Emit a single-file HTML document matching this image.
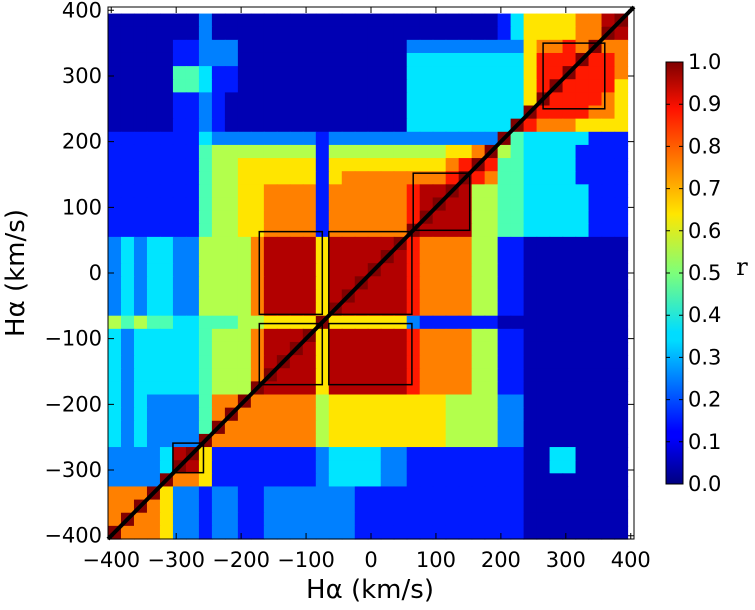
<!DOCTYPE html>
<html><head><meta charset="utf-8"><style>
body{margin:0;background:#fff;width:755px;height:605px;overflow:hidden}
text{font-family:"DejaVu Sans","Liberation Sans",sans-serif;fill:#000}
</style></head><body>
<svg id="chart" width="755" height="605" xmlns="http://www.w3.org/2000/svg">
<defs><linearGradient id="jet" x1="0" y1="1" x2="0" y2="0">
<stop offset="0" stop-color="#00007f"/><stop offset="0.11" stop-color="#0000ff"/><stop offset="0.125" stop-color="#0000ff"/><stop offset="0.34" stop-color="#00dcff"/><stop offset="0.36" stop-color="#0df"/><stop offset="0.5" stop-color="#7dff7a"/><stop offset="0.64" stop-color="#ffe600"/><stop offset="0.89" stop-color="#ff1100"/><stop offset="1" stop-color="#7f0000"/></linearGradient></defs>
<g id="cells"></g>
<g id="overlay"></g>
<rect x="108" y="7" width="526" height="532" fill="none" stroke="#000" stroke-width="1"/>
<g id="axes"></g>
<rect x="666" y="62" width="17" height="422" fill="url(#jet)" stroke="#000" stroke-width="1"/>
<g id="cbar"></g>
<text x="370" y="598" font-size="26" text-anchor="middle">Hα (km/s)</text>
<text transform="translate(24,273) rotate(-90)" font-size="26" text-anchor="middle">Hα (km/s)</text>
<text x="742" y="275" font-size="24" text-anchor="middle" style="font-family:'DejaVu Serif','Liberation Serif',serif">r</text>
</svg>
<script>
// bin centres (km/s), 40 bins of 20 km/s
const binCenters = Array.from({length:40},(_, i)=>-395+20*i);
const xTicks = [-400,-300,-200,-100,0,100,200,300,400];
const yTicks = [-400,-300,-200,-100,0,100,200,300,400];
const cbarTicks = [0.0,0.1,0.2,0.3,0.4,0.5,0.6,0.7,0.8,0.9,1.0];
// rows from top (y=+395) to bottom (y=-395); each row split into column groups of
// widths 4,1,2,1,4,4,1,6,1,4,2,2,8. chars 0-9 => r ~ d/10+0.05, 'a' => 1.0
const matrixRows = [
["0000","0","00","2","0000","0000","0","000000","0","0000","00","13","6666779a"],
["0000","0","00","2","0000","0000","0","000000","0","0000","00","13","666677a9"],
["0000","0","11","2","2200","0000","0","000000","2","2222","22","22","67787a77"],
["0000","0","11","2","2200","0000","0","000000","3","3333","33","33","6888a887"],
["0000","0","44","3","1100","0000","0","000000","3","3333","33","33","688a8887"],
["0000","0","44","3","1100","0000","0","000000","3","3333","33","33","68a88886"],
["0000","0","11","2","1000","0000","0","000000","3","3333","33","33","6a888876"],
["0000","0","11","2","1000","0000","0","000000","3","3333","33","33","a8888776"],
["0000","0","11","2","1000","0000","0","000000","3","3333","33","3a","87776666"],
["1111","1","11","3","2222","2222","1","222222","2","2222","22","a4","33333111"],
["1111","1","11","4","5555","5555","1","555555","5","5566","7a","54","33331111"],
["1111","1","11","4","5566","6666","1","666666","6","6678","a8","44","33331111"],
["1111","1","11","4","5566","6666","1","677777","7","778a","87","44","33331111"],
["1111","1","11","4","5566","7777","1","777777","8","99a9","55","44","33333111"],
["1111","1","11","4","5566","7777","1","777777","8","9a99","55","44","33333111"],
["1111","1","11","4","5566","7777","1","777777","8","a999","55","44","33333111"],
["1111","1","11","4","5566","7777","1","777777","a","9999","55","44","33333111"],
["2323","3","22","5","5557","9999","6","99999a","8","7777","55","11","00000000"],
["2323","3","22","5","5557","9999","6","9999a9","8","7777","55","11","00000000"],
["2323","3","22","5","5557","9999","6","999a99","8","7777","55","11","00000000"],
["2323","3","22","5","5557","9999","6","99a999","8","7777","55","11","00000000"],
["2323","3","22","5","5557","9999","6","9a9999","8","7777","55","11","00000000"],
["2323","3","22","5","5557","9999","6","a99999","8","7777","55","11","00000000"],
["5454","4","33","4","4455","6666","a","666666","2","1111","11","00","00000000"],
["3233","3","33","4","5557","999a","6","999999","8","7777","55","11","00000000"],
["3233","3","33","4","5557","99a9","6","999999","8","7777","55","11","00000000"],
["3233","3","33","4","5557","9a99","6","999999","8","7777","55","11","00000000"],
["3233","3","33","4","5557","a999","6","999999","8","7777","55","11","00000000"],
["3233","3","33","4","555a","9999","6","999999","8","7777","55","11","00000000"],
["3232","2","22","4","77a7","7777","5","666666","6","6655","55","22","00000000"],
["3232","2","22","4","7a77","7777","5","666666","6","6655","55","22","00000000"],
["3232","2","22","4","a777","7777","5","666666","6","6655","55","22","00000000"],
["3232","2","22","a","7777","7777","5","666666","6","6655","55","22","00000000"],
["2222","3","9a","6","1111","1111","2","333322","1","1111","11","11","00330000"],
["2222","3","a9","6","1111","1111","2","333322","1","1111","11","11","00330000"],
["2222","a","77","6","1111","1111","2","333322","1","1111","11","11","00000000"],
["777a","6","22","1","2211","2222","2","221111","1","1111","11","11","00000000"],
["77a7","6","22","1","2211","2222","2","221111","1","1111","11","11","00000000"],
["7a77","6","22","1","2211","2222","2","221111","1","1111","11","11","00000000"],
["a777","6","22","1","2211","2222","2","221111","1","1111","11","11","00000000"]
].map(g=>g.join(''));

const X0=108,X1=634,Y0=7,Y1=539,LO=-405,HI=405;
const xs=v=>X0+(v-LO)/(HI-LO)*(X1-X0);
const ys=v=>Y1-(v-LO)/(HI-LO)*(Y1-Y0);
function jet(v){const c=t=>Math.round(255*Math.max(0,Math.min(1,1.5-Math.abs(4*v-t))));return `rgb(${c(3)},${c(2)},${c(1)})`;}
const NS='http://www.w3.org/2000/svg';
const cells=document.getElementById('cells');
matrixRows.forEach((row,r)=>{
  const yc=binCenters[39-r];
  for(let c=0;c<40;c++){
    const ch=row[c]||'0';const v=ch==='a'?1.0:Math.min(1,parseInt(ch)/10+0.05);
    const xc=binCenters[c];
    const rect=document.createElementNS(NS,'rect');
    
    
    const xa=xs(xc-10),xb=xs(xc+10),ya=ys(yc+10),yb=ys(yc-10);
    rect.setAttribute('x',xa);rect.setAttribute('y',ya);
    rect.setAttribute('width',xb-xa+0.6);rect.setAttribute('height',yb-ya+0.6);
    rect.setAttribute('fill',jet(v));
    cells.appendChild(rect);
  }
});
const ov=document.getElementById('overlay');
const diag=document.createElementNS(NS,'line');


diag.setAttribute('x1',xs(-405));diag.setAttribute('y1',ys(-405));diag.setAttribute('x2',xs(405));diag.setAttribute('y2',ys(405));
diag.setAttribute('stroke','#000');diag.setAttribute('stroke-width','4');
ov.appendChild(diag);
const blockX0=[-172,-65,-172,-65,65,-305,265];
const blockX1=[-75,63,-75,63,152,-258,360];
const blockY0=[-170,-170,-63,-63,65,-304,250];
const blockY1=[-77,-77,63,63,152,-259,350];
blockX0.forEach((_,i)=>{
  const b=document.createElementNS(NS,'rect');
  
  
  b.setAttribute('x',xs(blockX0[i]));b.setAttribute('y',ys(blockY1[i]));
  b.setAttribute('width',xs(blockX1[i])-xs(blockX0[i]));b.setAttribute('height',ys(blockY0[i])-ys(blockY1[i]));
  b.setAttribute('fill','none');b.setAttribute('stroke','#000');b.setAttribute('stroke-width','1.5');
  ov.appendChild(b);
});
const ax=document.getElementById('axes');
const fmt=v=>v<0?'\u2212'+Math.abs(v):String(v);
xTicks.forEach(v=>{
  const t=document.createElementNS(NS,'text');
  
  
  t.setAttribute('x',xs(v));t.setAttribute('y',567);t.setAttribute('font-size','21');t.setAttribute('text-anchor','middle');
  t.textContent=fmt(v);ax.appendChild(t);
  const l=document.createElementNS(NS,'path');
  
  
  l.setAttribute('d',`M${xs(v)},${Y1}v-6M${xs(v)},${Y0}v6`);l.setAttribute('stroke','#000');
  ax.appendChild(l);
});
yTicks.forEach(v=>{
  const t=document.createElementNS(NS,'text');
  
  
  t.setAttribute('x',102);t.setAttribute('y',ys(v)+7);t.setAttribute('font-size','21');t.setAttribute('text-anchor','end');
  t.textContent=fmt(v);ax.appendChild(t);
  const l=document.createElementNS(NS,'path');
  
  
  l.setAttribute('d',`M${X0},${ys(v)}h6M${X1},${ys(v)}h-6`);l.setAttribute('stroke','#000');
  ax.appendChild(l);
});
const cb=document.getElementById('cbar');
cbarTicks.forEach(v=>{
  const y=484-v*422;
  const t=document.createElementNS(NS,'text');
  
  
  t.setAttribute('x',688);t.setAttribute('y',y+7);t.setAttribute('font-size','21');
  t.textContent=v.toFixed(1);cb.appendChild(t);
  const l=document.createElementNS(NS,'path');
  
  
  l.setAttribute('d',`M666,${y}h4M683,${y}h-4`);l.setAttribute('stroke','#000');
  cb.appendChild(l);
});
</script>
</body></html>
